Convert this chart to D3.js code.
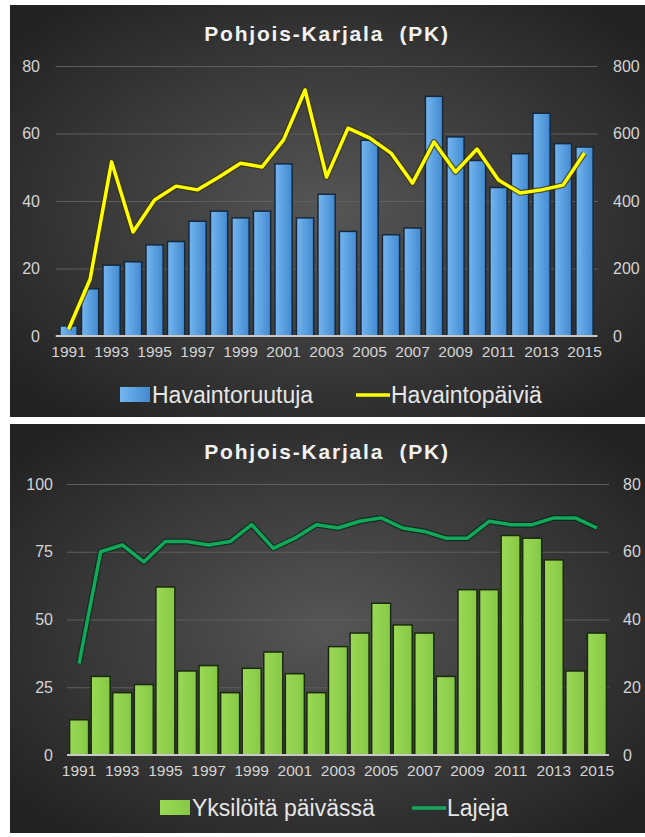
<!DOCTYPE html>
<html>
<head>
<meta charset="utf-8">
<script src="https://cdn.jsdelivr.net/npm/d3@7"></script>
<style>
  body { margin: 0; background: #fff; }
  text { font-family: "Liberation Sans", Arial, sans-serif; }
</style>
</head>
<body>
<svg id="chart" width="645" height="837"></svg>
<script>
const years = [1991, 1992, 1993, 1994, 1995, 1996, 1997, 1998, 1999, 2000, 2001, 2002, 2003,
  2004, 2005, 2006, 2007, 2008, 2009, 2010, 2011, 2012, 2013, 2014, 2015];
const yearLabels = [1991, 1993, 1995, 1997, 1999, 2001, 2003, 2005, 2007, 2009, 2011, 2013, 2015];

// top chart
const havaintoruutuja = [3, 14, 21, 22, 27, 28, 34, 37, 35, 37, 51, 35, 42, 31, 58, 30, 32, 71, 59, 52, 44, 54, 66, 57, 56];
const havaintopaivia = [20, 168, 516, 308, 403, 444, 433, 471, 512, 501, 581, 729, 471, 616, 587, 542, 453, 575, 486, 554, 462, 424, 433, 447, 542];
const topLeftTicks = [0, 20, 40, 60, 80];
const topRightTicks = [0, 200, 400, 600, 800];

// bottom chart
const yksiloitaPaivassa = [13, 29, 23, 26, 62, 31, 33, 23, 32, 38, 30, 23, 40, 45, 56, 48, 45, 29, 61, 61, 81, 80, 72, 31, 45];
const lajeja = [27, 60, 62, 57, 63, 63, 62, 63, 68, 61, 64, 68, 67, 69, 70, 67, 66, 64, 64, 69, 68, 68, 70, 70, 67];
const bottomLeftTicks = [0, 25, 50, 75, 100];
const bottomRightTicks = [0, 20, 40, 60, 80];

const svg = d3.select("#chart");
const defs = svg.append("defs");

const bg = defs.append("radialGradient").attr("id", "panelBg")
  .attr("cx", "50%").attr("cy", "50%").attr("r", "65%");
bg.append("stop").attr("offset", "0%").attr("stop-color", "#565656");
bg.append("stop").attr("offset", "100%").attr("stop-color", "#222");

const blue = defs.append("linearGradient").attr("id", "blueBar").attr("x1", 0).attr("x2", 1);
blue.append("stop").attr("offset", "0%").attr("stop-color", "#74b6f0");
blue.append("stop").attr("offset", "100%").attr("stop-color", "#4189d0");

const green = defs.append("linearGradient").attr("id", "greenBar").attr("x1", 0).attr("x2", 1);
green.append("stop").attr("offset", "0%").attr("stop-color", "#9ad955");
green.append("stop").attr("offset", "100%").attr("stop-color", "#86c846");

const drawPanel = (o) => {
  const g = svg.append("g");
  g.append("rect").attr("x", o.box[0]).attr("y", o.box[1])
    .attr("width", o.box[2]).attr("height", o.box[3]).attr("fill", "url(#panelBg)");

  g.append("text").attr("x", 327).attr("y", o.titleY)
    .attr("text-anchor", "middle").attr("fill", "#f2f2f2")
    .style("font-size", "21px").style("font-weight", "bold").style("letter-spacing", "1.8px")
    .style("white-space", "pre")
    .text("Pohjois-Karjala  (PK)");

  const x = d3.scaleBand().domain(years).range(o.xRange).padding(o.pad);
  const yL = d3.scaleLinear().domain(o.leftDomain).range(o.yRange);
  const yR = d3.scaleLinear().domain(o.rightDomain).range(o.yRange);

  // gridlines
  g.append("g").attr("transform", `translate(${o.xRange[0]},0)`)
    .call(d3.axisLeft(yL).tickValues(o.leftTicks.slice(1)).tickSize(-(o.xRange[1] - o.xRange[0])).tickFormat(""))
    .call((a) => a.select(".domain").remove())
    .call((a) => a.selectAll("line").attr("stroke", "#5e5e5e").attr("stroke-width", 1));

  // left axis labels
  g.append("g").attr("transform", `translate(${o.leftLabelX},0)`)
    .call(d3.axisLeft(yL).tickValues(o.leftTicks).tickSize(0).tickPadding(0))
    .call((a) => a.select(".domain").remove())
    .call((a) => a.selectAll("text").attr("fill", "#d4d4d4").style("font-size", "16px")
      .style("font-family", "'Liberation Sans', Arial, sans-serif"));

  // right axis labels
  g.append("g").attr("transform", `translate(${o.rightLabelX},0)`)
    .call(d3.axisRight(yR).tickValues(o.rightTicks).tickSize(0).tickPadding(0))
    .call((a) => a.select(".domain").remove())
    .call((a) => a.selectAll("text").attr("fill", "#d4d4d4").style("font-size", "16px")
      .style("font-family", "'Liberation Sans', Arial, sans-serif"));

  // bars
  g.append("g").selectAll("rect").data(o.bars).join("rect")
    .attr("x", (d, i) => x(years[i]))
    .attr("y", (d) => yL(d))
    .attr("width", x.bandwidth())
    .attr("height", (d) => yL(0) - yL(d))
    .attr("fill", o.barFill)
    .attr("stroke", o.barStroke).attr("stroke-width", 1.5);

  // baseline
  g.append("line").attr("x1", o.xRange[0]).attr("x2", o.xRange[1])
    .attr("y1", yL(0)).attr("y2", yL(0))
    .attr("stroke", "#c8c8c8").attr("stroke-width", 2);

  // x labels
  g.append("g").attr("transform", `translate(0,${yL(0) + 4})`)
    .call(d3.axisBottom(x).tickValues(yearLabels).tickSize(0).tickPadding(6))
    .call((a) => a.select(".domain").remove())
    .call((a) => a.selectAll("text").attr("fill", "#d4d4d4").style("font-size", "15.5px")
      .style("font-family", "'Liberation Sans', Arial, sans-serif"));

  // line
  const line = d3.line().x((d, i) => x(years[i]) + x.bandwidth() / 2).y((d) => yR(d));
  g.append("path").datum(o.line).attr("d", line).attr("fill", "none")
    .attr("stroke", o.lineShadow).attr("stroke-width", 6).attr("stroke-linejoin", "round");
  g.append("path").datum(o.line).attr("d", line).attr("fill", "none")
    .attr("stroke", o.lineColor).attr("stroke-width", 3.5).attr("stroke-linejoin", "round");

  // legend
  const lg = g.append("g");
  lg.append("rect").attr("x", o.legend[0]).attr("y", o.legendY - 8)
    .attr("width", 30).attr("height", 15).attr("fill", o.barFill);
  lg.append("text").attr("x", o.legend[0] + 32).attr("y", o.legendY + 8)
    .attr("fill", "#e6e6e6").style("font-size", "23px").text(o.barName);
  lg.append("line").attr("x1", o.legend[1]).attr("x2", o.legend[1] + 34)
    .attr("y1", o.legendY).attr("y2", o.legendY)
    .attr("stroke", o.lineColor).attr("stroke-width", 3.5);
  lg.append("text").attr("x", o.legend[1] + 35).attr("y", o.legendY + 8)
    .attr("fill", "#e6e6e6").style("font-size", "23px").text(o.lineName);
};

drawPanel({
  box: [10, 5, 635, 412],
  titleY: 41,
  xRange: [55.7, 597.4], pad: 0.2,
  yRange: [336, 66],
  leftDomain: [0, 80], rightDomain: [0, 800],
  leftTicks: topLeftTicks, rightTicks: topRightTicks,
  leftLabelX: 40, rightLabelX: 613,
  bars: havaintoruutuja, line: havaintopaivia,
  barFill: "url(#blueBar)", barStroke: "#16283c",
  lineColor: "#ffff00", lineShadow: "rgba(60,50,0,0.7)",
  barName: "Havaintoruutuja", lineName: "Havaintopäiviä",
  legend: [120, 356], legendY: 395
});

drawPanel({
  box: [10, 424, 635, 409],
  titleY: 459,
  xRange: [67, 609], pad: 0.12,
  yRange: [755, 484],
  leftDomain: [0, 100], rightDomain: [0, 80],
  leftTicks: bottomLeftTicks, rightTicks: bottomRightTicks,
  leftLabelX: 53, rightLabelX: 623,
  bars: yksiloitaPaivassa, line: lajeja,
  barFill: "url(#greenBar)", barStroke: "#1a2a0e",
  lineColor: "#13a85a", lineShadow: "rgba(0,40,20,0.7)",
  barName: "Yksilöitä päivässä", lineName: "Lajeja",
  legend: [160, 412], legendY: 808
});
</script>
</body>
</html>
